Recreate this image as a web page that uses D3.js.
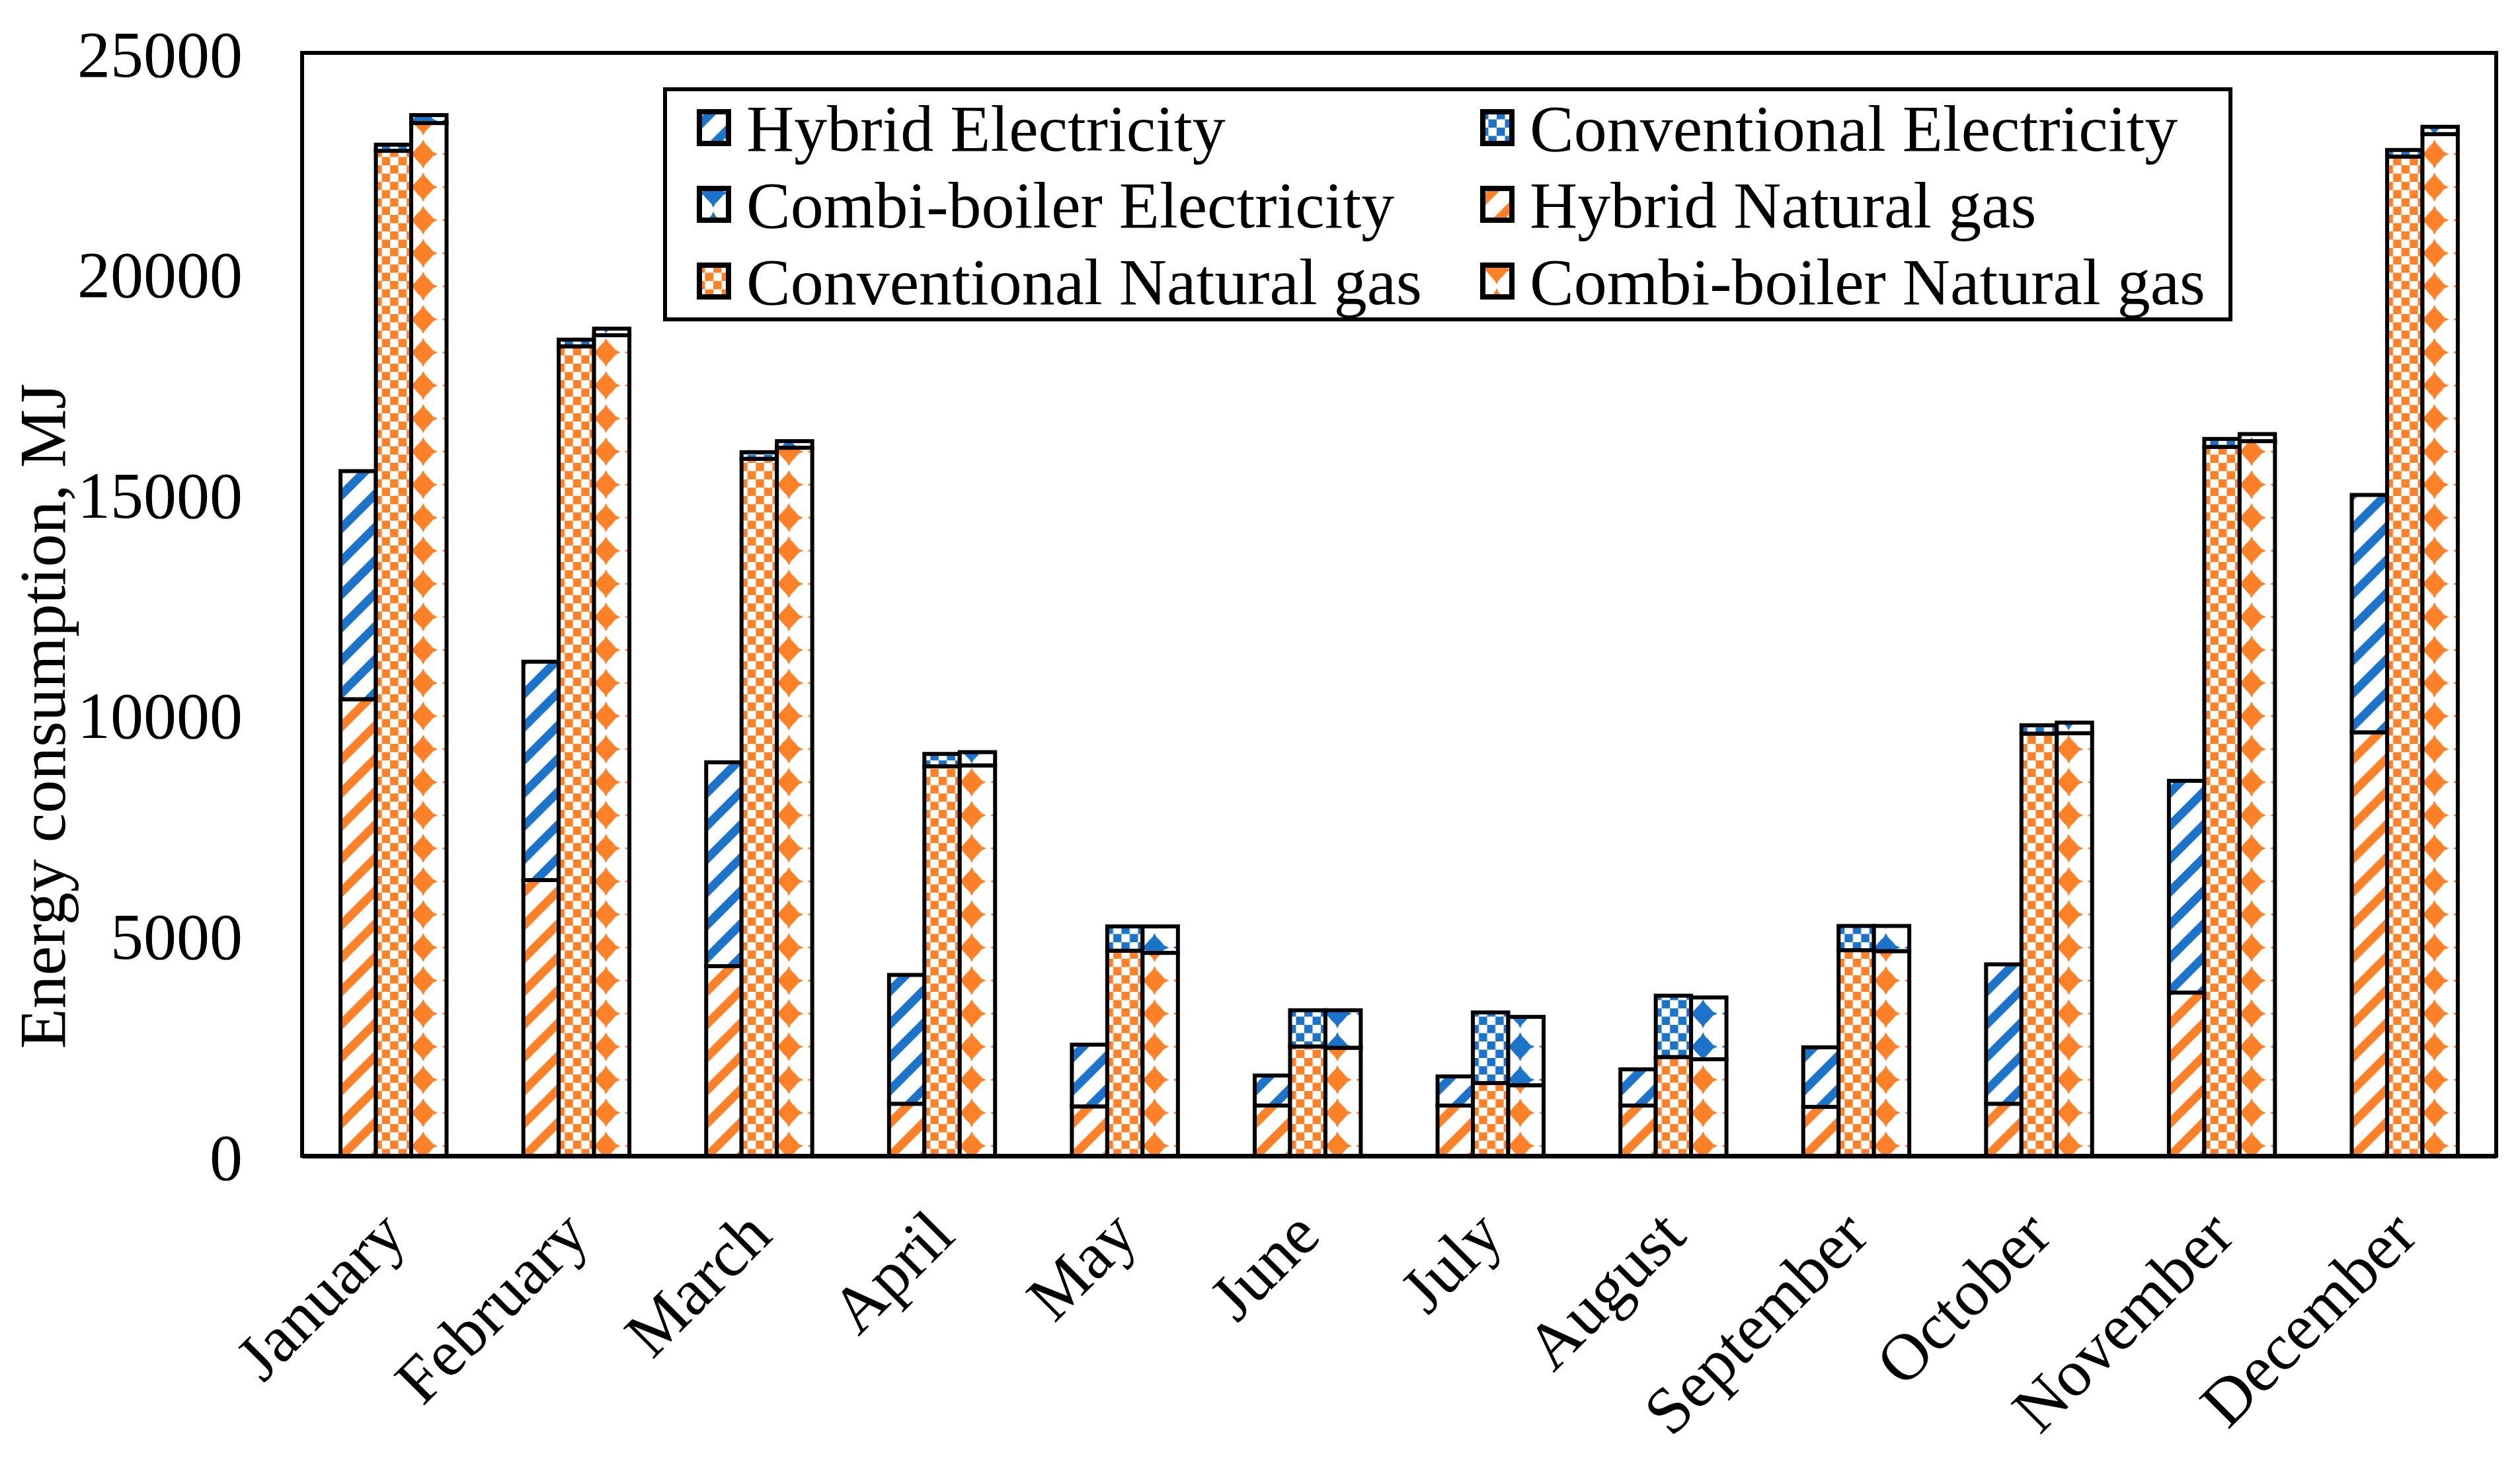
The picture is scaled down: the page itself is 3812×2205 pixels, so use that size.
<!DOCTYPE html>
<html>
<head>
<meta charset="utf-8">
<script src="https://cdn.jsdelivr.net/npm/d3@7"></script>
<style>
  body { margin: 0; background: #fff; }
  text { font-family: "Liberation Serif", "Times New Roman", serif; fill: #000; }
</style>
</head>
<body>
<div id="chart"></div>
<script>
// Monthly energy consumption by heating system (MJ)
const months = ["January", "February", "March", "April", "May", "June",
  "July", "August", "September", "October", "November", "December"];

const hybridGas  = [10350, 6250, 4300, 1180, 1120, 1140, 1140, 1140, 1110, 1180, 3700, 9600];
const hybridElec = [5170, 4950, 4620, 2920, 1400, 680, 660, 820, 1350, 3160, 4800, 5380];
const convGas    = [22780, 18350, 15800, 8830, 4650, 2480, 1650, 2240, 4660, 9570, 16070, 22650];
const convElec   = [140, 150, 150, 280, 550, 820, 1600, 1390, 550, 190, 180, 150];
const combiGas   = [23410, 18600, 16050, 8850, 4600, 2450, 1600, 2190, 4640, 9580, 16200, 23160];
const combiElec  = [180, 150, 150, 300, 600, 850, 1550, 1400, 570, 240, 160, 165];

const yTicks = [0, 5000, 10000, 15000, 20000, 25000];

const systems = [
  { key: "hybrid", gas: hybridGas, elec: hybridElec, pattern: "stripe" },
  { key: "conv",   gas: convGas,   elec: convElec,   pattern: "check" },
  { key: "combi",  gas: combiGas,  elec: combiElec,  pattern: "diamond" }
];

const legendItems = [
  { label: "Hybrid Electricity",       fill: "stripe-blue" },
  { label: "Conventional Electricity", fill: "check-blue" },
  { label: "Combi-boiler Electricity", fill: "diamond-blue" },
  { label: "Hybrid Natural gas",       fill: "stripe-orange" },
  { label: "Conventional Natural gas", fill: "check-orange" },
  { label: "Combi-boiler Natural gas", fill: "diamond-orange" }
];

const BLUE = "#1b74c9", ORANGE = "#fe8128";

const W = 3812, H = 2205;
const plot = { left: 457, right: 3776, top: 80, bottom: 1748 };

const svg = d3.select("#chart").append("svg")
  .attr("width", W).attr("height", H)
  .attr("viewBox", `0 0 ${W} ${H}`);

svg.append("rect").attr("width", W).attr("height", H).attr("fill", "#fff");

// hatch patterns
const defs = svg.append("defs");
[["blue", BLUE], ["orange", ORANGE]].forEach(([name, col]) => {
  const st = defs.append("pattern").attr("id", "stripe-" + name)
    .attr("patternUnits", "userSpaceOnUse").attr("width", 50).attr("height", 50);
  st.append("rect").attr("width", 50).attr("height", 50).attr("fill", "#fff");
  st.append("path").attr("d", "M-12.5,12.5L12.5,-12.5M0,50L50,0M37.5,62.5L62.5,37.5")
    .attr("stroke", col).attr("stroke-width", 13);

  const ck = defs.append("pattern").attr("id", "check-" + name)
    .attr("patternUnits", "userSpaceOnUse").attr("width", 25).attr("height", 25);
  ck.append("rect").attr("width", 25).attr("height", 25).attr("fill", "#fff");
  ck.append("rect").attr("width", 12.5).attr("height", 12.5).attr("fill", col);
  ck.append("rect").attr("x", 12.5).attr("y", 12.5).attr("width", 12.5).attr("height", 12.5).attr("fill", col);

  const dm = defs.append("pattern").attr("id", "diamond-" + name)
    .attr("patternUnits", "userSpaceOnUse").attr("y", 8).attr("width", 50).attr("height", 50);
  dm.append("rect").attr("width", 50).attr("height", 50).attr("fill", "#fff");
  dm.append("path")
    .attr("d", "M25,3L28,9L34,15L40,22L47,25L40,28L34,35L28,41L25,47L22,41L16,35L10,28L3,25L10,22L16,15L22,9Z")
    .attr("fill", col);
});

// scales
const x0 = d3.scaleBand().domain(months)
  .range([plot.left, plot.right]).paddingInner(0.42).paddingOuter(0.21);
const x1 = d3.scaleBand().domain(systems.map(s => s.key))
  .range([0, x0.bandwidth()]);
const y = d3.scaleLinear().domain([0, 25000]).range([plot.bottom, plot.top]);

// bars
const groups = svg.append("g").selectAll("g")
  .data(months).enter().append("g")
  .attr("transform", d => `translate(${x0(d)},0)`);

systems.forEach(s => {
  groups.append("rect")
    .attr("x", x1(s.key)).attr("width", x1.bandwidth())
    .attr("y", (d, i) => y(s.gas[i]))
    .attr("height", (d, i) => y(0) - y(s.gas[i]))
    .attr("fill", `url(#${s.pattern}-orange)`)
    .attr("stroke", "#000").attr("stroke-width", 6);
  groups.append("rect")
    .attr("x", x1(s.key)).attr("width", x1.bandwidth())
    .attr("y", (d, i) => y(s.gas[i] + s.elec[i]))
    .attr("height", (d, i) => y(s.gas[i]) - y(s.gas[i] + s.elec[i]))
    .attr("fill", `url(#${s.pattern}-blue)`)
    .attr("stroke", "#000").attr("stroke-width", 6);
});

// plot frame
svg.append("rect")
  .attr("x", plot.left).attr("y", plot.top)
  .attr("width", plot.right - plot.left).attr("height", plot.bottom - plot.top)
  .attr("fill", "none").attr("stroke", "#000").attr("stroke-width", 6);

// axes
const yAxis = svg.append("g")
  .attr("transform", `translate(${plot.left},0)`)
  .call(d3.axisLeft(y).tickValues(yTicks).tickSize(0).tickPadding(90).tickFormat(d3.format("d")));
yAxis.select(".domain").remove();
yAxis.selectAll("text").attr("font-size", 100)
  .attr("font-family", "Liberation Serif").attr("dy", "0.35em");

const xAxis = svg.append("g")
  .attr("transform", `translate(0,${plot.bottom})`)
  .call(d3.axisBottom(x0).tickSize(0));
xAxis.select(".domain").attr("stroke-width", 7);
xAxis.selectAll("text")
  .attr("font-size", 100).attr("font-family", "Liberation Serif")
  .attr("text-anchor", "end")
  .attr("x", 0).attr("y", 0).attr("dy", "0.35em")
  .attr("transform", "translate(-2,100) rotate(-45)");

svg.append("text")
  .attr("transform", "translate(98,1083) rotate(-90)")
  .attr("text-anchor", "middle")
  .attr("font-size", 100)
  .text("Energy consumption, MJ");

// legend
const legend = svg.append("g");
legend.append("rect")
  .attr("x", 1006).attr("y", 135).attr("width", 2368).attr("height", 348)
  .attr("fill", "#fff").attr("stroke", "#000").attr("stroke-width", 6);

const colX = [1054, 2239], rowY = [193, 309, 425];
const li = legend.selectAll("g.item").data(legendItems).enter().append("g")
  .attr("class", "item")
  .attr("transform", (d, i) => `translate(${colX[i % 2]},${rowY[Math.floor(i / 2)]})`);
li.append("rect")
  .attr("x", 4).attr("y", -24).attr("width", 44).attr("height", 48)
  .attr("fill", d => `url(#${d.fill})`)
  .attr("stroke", "#000").attr("stroke-width", 8);
li.append("text")
  .attr("x", 75).attr("dy", "0.35em")
  .attr("font-size", 100)
  .text(d => d.label);
</script>
</body>
</html>
